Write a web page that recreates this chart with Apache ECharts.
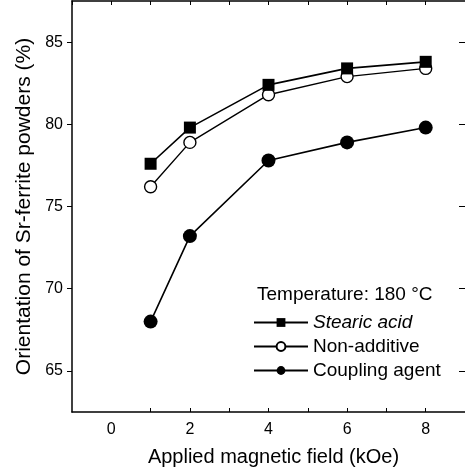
<!DOCTYPE html>
<html>
<head>
<meta charset="utf-8">
<script src="https://cdn.jsdelivr.net/npm/echarts@6/dist/echarts.min.js"></script>
<style>
  html, body { margin: 0; padding: 0; background: #fff; }
  #main { width: 465px; height: 472px; }
</style>
</head>
<body>
<div id="main"></div>
<script>
// applied field (kOe)
var fields = [1, 2, 4, 6, 8];
// orientation (%)
var stearicAcid = [77.6, 79.8, 82.4, 83.4, 83.8];
var nonAdditive = [76.2, 78.9, 81.8, 82.9, 83.4];
var couplingAgent = [68.0, 73.2, 77.8, 78.9, 79.8];
var xTicks = [0, 2, 4, 6, 8];
var yTicks = [65, 70, 75, 80, 85];

function pairs(xs, ys) {
  var out = [];
  for (var i = 0; i < xs.length; i++) {
    out.push([xs[i], ys[i]]);
  }
  return out;
}

var chart = echarts.init(document.getElementById('main'));
var font = 'Liberation Sans, Arial, sans-serif';
var black = '#000';

var option = {
  backgroundColor: '#fff',
  animation: false,
  title: {
    text: 'Temperature: 180 °C',
    left: 252,
    top: 280,
    textStyle: { fontFamily: font, fontSize: 19, fontWeight: 'normal', color: black }
  },
  legend: {
    orient: 'vertical',
    left: 248,
    top: 308,
    itemWidth: 54,
    itemHeight: 11,
    itemGap: 5,
    textStyle: { fontFamily: font, fontSize: 19, color: black },
    data: [
      { name: 'Stearic acid', textStyle: { fontStyle: 'italic' } },
      { name: 'Non-additive' },
      { name: 'Coupling agent' }
    ]
  },
  grid: { left: 72, right: -4, top: 1, bottom: 59 },
  xAxis: [{
    type: 'value',
    min: -1,
    max: 9,
    interval: 1,
    name: 'Applied magnetic field (kOe)',
    nameLocation: 'middle',
    nameGap: 35,
    nameTextStyle: { fontFamily: font, fontSize: 20, color: black, padding: [0, 0, 0, 10] },
    axisLine: { onZero: false, lineStyle: { color: black, width: 1.5 } },
    axisTick: {
      inside: true,
      length: 4,
      lineStyle: { color: black },
      customValues: [1, 2, 3, 4, 5, 6, 7, 8]
    },
    axisLabel: {
      fontFamily: font, fontSize: 16, color: black, margin: 10,
      customValues: xTicks
    },
    splitLine: { show: false }
  }, {
    type: 'value',
    position: 'top',
    min: -1,
    max: 9,
    interval: 1,
    axisLine: { onZero: false, lineStyle: { color: black, width: 1.5 } },
    axisTick: { inside: true, length: 4, lineStyle: { color: black } },
    axisLabel: { show: false },
    splitLine: { show: false }
  }],
  yAxis: [{
    type: 'value',
    min: 62.5,
    max: 87.5,
    name: 'Orientation of Sr-ferrite powders (%)',
    nameLocation: 'middle',
    nameGap: 37,
    nameTextStyle: { fontFamily: font, fontSize: 21, color: black },
    axisLine: { onZero: false, lineStyle: { color: black, width: 1.5 } },
    axisTick: {
      length: 5,
      lineStyle: { color: black },
      customValues: yTicks
    },
    axisLabel: {
      fontFamily: font, fontSize: 16, color: black, margin: 9,
      customValues: yTicks
    },
    splitLine: { show: false }
  }, {
    type: 'value',
    position: 'right',
    min: 62.5,
    max: 87.5,
    axisLine: { show: false, onZero: false },
    axisTick: {
      show: true,
      inside: true,
      length: 6,
      lineStyle: { color: black },
      customValues: yTicks
    },
    axisLabel: { show: false },
    splitLine: { show: false }
  }],
  series: [{
    name: 'Coupling agent',
    type: 'line',
    data: pairs(fields, couplingAgent),
    symbol: 'circle',
    symbolSize: 14,
    itemStyle: { color: black },
    lineStyle: { color: black, width: 1.6 }
  }, {
    name: 'Non-additive',
    type: 'line',
    data: pairs(fields, nonAdditive),
    symbol: 'circle',
    symbolSize: 12,
    itemStyle: { color: '#fff', borderColor: black, borderWidth: 1.4 },
    lineStyle: { color: black, width: 1.4 }
  }, {
    name: 'Stearic acid',
    type: 'line',
    data: pairs(fields, stearicAcid),
    symbol: 'rect',
    symbolSize: 12,
    itemStyle: { color: black },
    lineStyle: { color: black, width: 1.6 }
  }]
};

chart.setOption(option);
</script>
</body>
</html>
